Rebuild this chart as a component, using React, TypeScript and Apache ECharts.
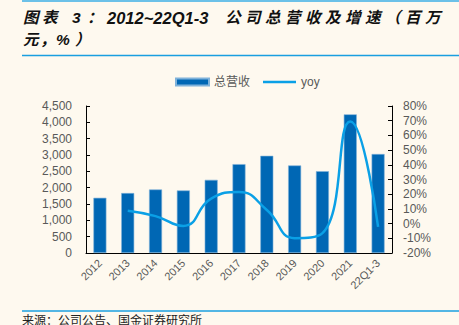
import React, { useEffect, useRef } from "react";
import * as echarts from "echarts";

const categories = ["2012", "2013", "2014", "2015", "2016", "2017", "2018", "2019", "2020", "2021", "22Q1-3"];
const revenue = [1690, 1835, 1945, 1915, 2240, 2720, 2975, 2680, 2505, 4245, 3030];
const yoy = [null, 8.8, 5.1, -1.6, 17.0, 21.5, 9.3, -9.9, -6.5, 69.4, -2.2];
const leftTicks = { min: 0, max: 4500, interval: 500 };
const rightTicks = { min: -20, max: 80, interval: 10 };
const titlePrefix = ["图", "表", "3", "："];
const titleCode = "2012~22Q1-3";
const titleTail = "公司总营收及增速（百万";
const titleLine2 = ["元", "，", "%", "）"];
const sourceText = "来源：公司公告、国金证券研究所";

const BG = "#FEF9EF";
const BAR = "#0067B4";
const LINE = "#0AA0E6";
const GRAY = "#595959";
const FONT = "'Liberation Sans', 'Noto Sans CJK SC', sans-serif";
const TFONT = "italic bold 15.5px 'Liberation Sans', 'Noto Sans CJK SC', sans-serif";

export default function App() {
  const ref = useRef<HTMLDivElement>(null);
  useEffect(() => {
    if (!ref.current) return;
    const chart = echarts.init(ref.current, null, { renderer: "svg" });
    const titleEls: any[] = [];
    const prefixX = [23, 42, 72, 87];
    titlePrefix.forEach((c, i) =>
      titleEls.push({ type: "text", left: prefixX[i], top: 10, style: { text: c, font: TFONT, fill: "#111" } })
    );
    titleEls.push({
      type: "text", left: 107, top: 9,
      style: { text: titleCode, font: "italic bold 16.5px 'Liberation Sans', sans-serif", fill: "#111" },
    });
    titleTail.split("").forEach((c, i) =>
      titleEls.push({ type: "text", left: 225 + i * 20, top: 10, style: { text: c, font: TFONT, fill: "#111" } })
    );
    const l2X = [23, 40, 56, 75];
    titleLine2.forEach((c, i) =>
      titleEls.push({ type: "text", left: l2X[i], top: 32, style: { text: c, font: TFONT, fill: "#111" } })
    );
    chart.setOption({
      animation: false,
      backgroundColor: BG,
      textStyle: { fontFamily: FONT },
      graphic: [
        { type: "line", shape: { x1: 22, y1: 1, x2: 459, y2: 1 }, style: { stroke: "#3BAEE6", lineWidth: 1.5 } },
        { type: "line", shape: { x1: 22, y1: 55.5, x2: 459, y2: 55.5 }, style: { stroke: "#1A9FE0", lineWidth: 1.5 } },
        { type: "line", shape: { x1: 22, y1: 311, x2: 459, y2: 311 }, style: { stroke: "#1A9FE0", lineWidth: 1.5 } },
        ...titleEls,
        {
          type: "text", left: 22, top: 313,
          style: { text: sourceText, font: "12px 'Noto Sans CJK SC', sans-serif", fill: "#222" },
        },
      ],
      legend: {
        top: 71,
        left: 170,
        itemGap: 13,
        itemWidth: 33,
        itemHeight: 7,
        textStyle: { color: GRAY, fontSize: 12, fontFamily: FONT },
        data: [
          { name: "总营收", icon: "rect" },
          { name: "yoy", icon: "path://M0,0M0,7M0,2.3H33V4.7H0Z", itemStyle: { color: LINE } },
        ],
      },
      grid: { left: 86, right: 67, top: 106, bottom: 72 },
      xAxis: {
        type: "category",
        data: categories,
        axisLine: { lineStyle: { color: "#000", width: 1 } },
        axisTick: { inside: true, length: 4, lineStyle: { color: "#000" } },
        axisLabel: { rotate: 45, color: GRAY, fontSize: 11, interval: 0, margin: 8 },
      },
      yAxis: [
        {
          type: "value",
          ...leftTicks,
          axisLine: { show: true, lineStyle: { color: "#000" } },
          axisTick: { show: true, inside: true, length: 4, lineStyle: { color: "#000" } },
          splitLine: { show: false },
          axisLabel: {
            color: GRAY, fontSize: 12, margin: 14,
            formatter: (v: number) => v.toLocaleString("en-US"),
          },
        },
        {
          type: "value",
          ...rightTicks,
          position: "right",
          axisLine: { show: true, lineStyle: { color: "#000" } },
          axisTick: { show: true, inside: true, length: 4, lineStyle: { color: "#000" } },
          splitLine: { show: false },
          axisLabel: { color: GRAY, fontSize: 12, margin: 11, formatter: "{value}%" },
        },
      ],
      series: [
        {
          name: "总营收",
          type: "bar",
          data: revenue,
          barWidth: 13,
          itemStyle: { color: BAR, borderColor: "#7FB2DA", borderWidth: 0.6 },
        },
        {
          name: "yoy",
          type: "line",
          yAxisIndex: 1,
          data: yoy,
          smooth: true,
          symbol: "none",
          lineStyle: { color: LINE, width: 2.5 },
          itemStyle: { color: LINE },
        },
      ],
    });
    return () => chart.dispose();
  }, []);
  return <div ref={ref} style={{ position: "absolute", left: 0, top: 0, width: 459, height: 325 }} />;
}
